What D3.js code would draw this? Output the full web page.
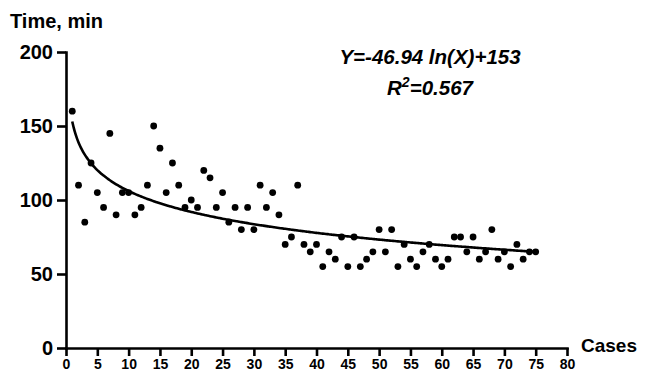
<!DOCTYPE html>
<meta charset="utf-8">
<style>
body { margin: 0; background: #fff; }
text { font-family: "Liberation Sans", Arial, sans-serif; font-weight: bold; fill: #000; }
.axis path, .axis line { stroke: #000; stroke-width: 2.6; }
</style>
<body>
<script src="https://d3js.org/d3.v7.min.js"></script>
<script>

// cases (x) and time in minutes (y)
var cases = d3.range(1, 76);
var times = [160, 110, 85, 125, 105, 95, 145, 90, 105, 105,
             90, 95, 110, 150, 135, 105, 125, 110, 95, 100,
             95, 120, 115, 95, 105, 85, 95, 80, 95, 80,
             110, 95, 105, 90, 70, 75, 110, 70, 65, 70,
             55, 65, 60, 75, 55, 75, 55, 60, 65, 80,
             65, 80, 55, 70, 60, 55, 65, 70, 60, 55,
             60, 75, 75, 65, 75, 60, 65, 80, 60, 65,
             55, 70, 60, 65, 65];

var xTicks = d3.range(0, 81, 5);
var yTicks = [0, 50, 100, 150, 200];

// fitted curve Y = a*log(X) + b
var fitA = -46.94, fitB = 153;
var eqText = "Y=-46.94 ln(X)+153";

var margin = {top: 52, right: 79, bottom: 28, left: 66},
    width = 646 - margin.left - margin.right,
    height = 376 - margin.top - margin.bottom;

var svg = d3.select("body").append("svg")
    .attr("width", 646)
    .attr("height", 376)
  .append("g")
    .attr("transform", "translate(" + margin.left + "," + margin.top + ")");

var x = d3.scaleLinear().domain([0, 80]).range([0, width]);
var y = d3.scaleLinear().domain([0, 200]).range([height, 0]);

svg.append("g")
    .attr("class", "axis")
    .attr("transform", "translate(0," + height + ")")
    .call(d3.axisBottom(x).tickValues(xTicks).tickSize(8).tickSizeOuter(0).tickPadding(3))
    .selectAll("text")
    .style("font-size", "14px");

svg.append("g")
    .attr("class", "axis")
    .call(d3.axisLeft(y).tickValues(yTicks).tickSize(9).tickSizeOuter(0).tickPadding(4))
    .selectAll("text")
    .style("font-size", "20px");

svg.selectAll(".axis path").attr("stroke-linecap", "square");

// fit curve
var line = d3.line()
    .x(function(d) { return x(d); })
    .y(function(d) { return y(fitA * Math.log10(d) + fitB); })
    .curve(d3.curveBasis);

svg.append("path")
    .datum(d3.range(1, 75.01, 0.25))
    .attr("fill", "none")
    .attr("stroke", "#000")
    .attr("stroke-width", 2.6)
    .attr("d", line);

svg.selectAll(".dot")
    .data(cases)
  .enter().append("circle")
    .attr("class", "dot")
    .attr("cx", function(d) { return x(d); })
    .attr("cy", function(d, i) { return y(times[i]); })
    .attr("r", 3.4)
    .attr("fill", "#000");

// labels
svg.append("text")
    .attr("x", -56)
    .attr("y", -24)
    .style("font-size", "20px")
    .text("Time, min");

svg.append("text")
    .attr("x", width + 14)
    .attr("y", height + 4)
    .style("font-size", "19px")
    .text("Cases");

var eq = svg.append("text")
    .attr("x", 364)
    .attr("y", 12)
    .attr("text-anchor", "middle")
    .style("font-size", "20.5px")
    .style("font-style", "italic")
    .text(eqText);

var r2 = svg.append("text")
    .attr("x", 364)
    .attr("y", 43)
    .attr("text-anchor", "middle")
    .style("font-size", "20.5px")
    .style("font-style", "italic");
r2.append("tspan").text("R");
r2.append("tspan").attr("dy", -8).style("font-size", "14px").text("2");
r2.append("tspan").attr("dy", 8).text("=0.567");

</script>
</body>
